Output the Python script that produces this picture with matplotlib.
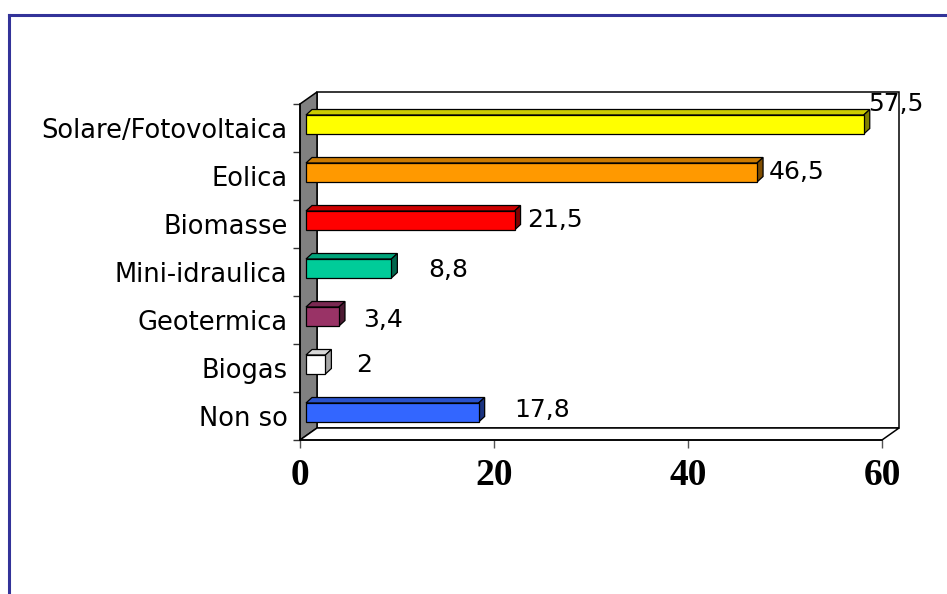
import matplotlib
matplotlib.use("Agg")
import matplotlib.pyplot as plt
from matplotlib.patches import Polygon
from matplotlib.lines import Line2D
import matplotlib.colors as mcolors

# data (bottom to top)
categories = ["Non so", "Biogas", "Geotermica", "Mini-idraulica",
              "Biomasse", "Eolica", "Solare/Fotovoltaica"]
values = [17.8, 2, 3.4, 8.8, 21.5, 46.5, 57.5]
value_labels = ["17,8", "2", "3,4", "8,8", "21,5", "46,5", "57,5"]
bar_colors = ["#3366FF", "#FFFFFF", "#993366", "#00CC99",
              "#FF0000", "#FF9900", "#FFFF00"]
x_ticks = [0, 20, 40, 60]

# label nudges in pixels (Excel places them a bit unevenly)
label_dx = [30, 25, 18, 31, 7, 6, -2]
label_dy = [2, 0, -4, -2, 0, 0, 21]

W, H, DPI = 947, 594, 100
fig = plt.figure(figsize=(W / DPI, H / DPI), dpi=DPI)
fig.patch.set_facecolor("white")

# front plane of the 3d plot, in pixels
left_px, right_px, top_px, bot_px = 300, 882, 104, 440
ax = fig.add_axes([left_px / W, 1 - bot_px / H,
                   (right_px - left_px) / W, (bot_px - top_px) / H])
ax.set_xlim(0, 60)
ax.set_ylim(0, len(categories))
ax.patch.set_alpha(0)
for s in ax.spines.values():
    s.set_visible(False)

px_x = (right_px - left_px) / 60.0
px_y = (bot_px - top_px) / len(categories)


def dx(p):
    return p / px_x


def dy(p):
    return p / px_y


# wall depth
wx, wy = dx(17), dy(12)
ny = len(categories)

# back wall
ax.add_patch(Polygon([(wx, wy), (60 + wx, wy), (60 + wx, ny + wy), (wx, ny + wy)],
                     closed=True, facecolor="white", edgecolor="black",
                     lw=1.1, clip_on=False, zorder=1))
# left wall
ax.add_patch(Polygon([(0, 0), (wx, wy), (wx, ny + wy), (0, ny)],
                     closed=True, facecolor="#808080", edgecolor="black",
                     lw=1.1, clip_on=False, zorder=2))
# floor
ax.add_patch(Polygon([(0, 0), (60, 0), (60 + wx, wy), (wx, wy)],
                     closed=True, facecolor="white", edgecolor="black",
                     lw=1.1, clip_on=False, zorder=2))


def shade(c, f):
    r, g, b = mcolors.to_rgb(c)
    return (r * f, g * f, b * f)


# bars
bx0, by0 = dx(6), dy(3.5)
half_h = dy(9.5)
ddx, ddy = dx(6), dy(5.5)
for i, (v, c) in enumerate(zip(values, bar_colors)):
    yc = i + 0.5 + by0
    x0, x1 = bx0, bx0 + v
    y0, y1 = yc - half_h, yc + half_h
    front = [(x0, y0), (x1, y0), (x1, y1), (x0, y1)]
    top = [(x0, y1), (x1, y1), (x1 + ddx, y1 + ddy), (x0 + ddx, y1 + ddy)]
    side = [(x1, y0), (x1 + ddx, y0 + ddy), (x1 + ddx, y1 + ddy), (x1, y1)]
    if c == "#FFFFFF":
        tc, sc = "#D9D9D9", "#A6A6A6"
    else:
        tc, sc = shade(c, 0.8), shade(c, 0.5)
    for poly, fc in ((top, tc), (side, sc), (front, c)):
        ax.add_patch(Polygon(poly, closed=True, facecolor=fc, edgecolor="black",
                             lw=0.9, clip_on=False, zorder=3))
    ax.annotate(value_labels[i], xy=(x1 + ddx, yc),
                xytext=(label_dx[i] * 72 / DPI, label_dy[i] * 72 / DPI),
                textcoords="offset points", ha="left", va="center",
                fontsize=18, family="DejaVu Sans", zorder=5,
                annotation_clip=False)

# front edges
ax.add_line(Line2D([0, 0], [0, ny], color="black", lw=1.1, zorder=4, clip_on=False))
ax.add_line(Line2D([0, 60], [0, 0], color="black", lw=1.1, zorder=4, clip_on=False))

# ticks
ax.set_yticks([i + 0.5 for i in range(ny)])
ax.set_yticklabels(categories, fontsize=18.5, family="DejaVu Sans")
ax.set_yticks(range(ny + 1), minor=True)
ax.tick_params(axis="y", which="major", length=0, pad=9)
ax.tick_params(axis="y", which="minor", length=5, width=1, color="#333333")
ax.set_xticks(x_ticks)
ax.set_xticklabels([str(t) for t in x_ticks], fontsize=27,
                   family="Liberation Serif", fontweight="bold")
ax.tick_params(axis="x", length=6, width=1, color="#555555", pad=7)

# outer frame (cropped rectangle)
fig.add_artist(Line2D([9 / W, 1.0], [1 - 15 / H, 1 - 15 / H],
                      transform=fig.transFigure, color="#333399", lw=2.2))
fig.add_artist(Line2D([9 / W, 9 / W], [1 - 15 / H, 0],
                      transform=fig.transFigure, color="#333399", lw=2.2))

fig.savefig("out.png", dpi=DPI)
